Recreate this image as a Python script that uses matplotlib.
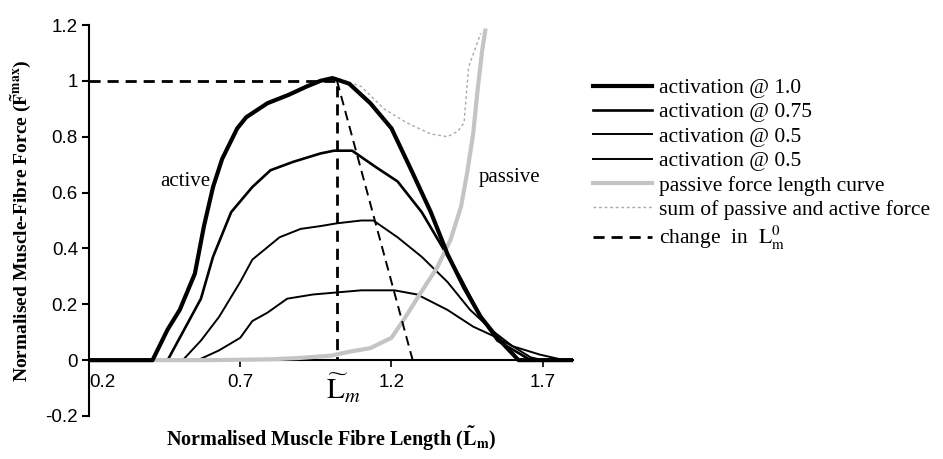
import numpy as np
from matplotlib import pyplot as plt

plt.rcParams['font.family'] = ['Liberation Serif', 'DejaVu Serif']
plt.rcParams['mathtext.fontset'] = 'stix'

# active force-length curves
x_act100 = [0.2, 0.41, 0.46, 0.50, 0.55, 0.58, 0.61, 0.64, 0.69, 0.72, 0.79, 0.86, 0.92, 0.965, 1.005,
            1.06, 1.13, 1.20, 1.27, 1.33, 1.385, 1.44, 1.495, 1.55, 1.62, 1.8]
y_act100 = [0, 0, 0.11, 0.18, 0.31, 0.48, 0.62, 0.72, 0.83, 0.87, 0.92, 0.95, 0.98, 1.0, 1.01,
            0.99, 0.92, 0.83, 0.67, 0.53, 0.38, 0.26, 0.155, 0.08, 0, 0]

x_act075 = [0.2, 0.46, 0.50, 0.57, 0.61, 0.67, 0.74, 0.80, 0.875, 0.965, 1.01, 1.07, 1.15, 1.22,
            1.30, 1.36, 1.43, 1.495, 1.55, 1.66, 1.8]
y_act075 = [0, 0, 0.08, 0.22, 0.37, 0.53, 0.62, 0.68, 0.71, 0.74, 0.75, 0.75, 0.69, 0.64,
            0.53, 0.42, 0.29, 0.155, 0.07, 0, 0]

x_act050 = [0.2, 0.51, 0.57, 0.63, 0.70, 0.74, 0.83, 0.90, 0.965, 1.02, 1.10, 1.14, 1.22, 1.30,
            1.385, 1.46, 1.54, 1.60, 1.66, 1.70, 1.8]
y_act050 = [0, 0, 0.07, 0.155, 0.28, 0.36, 0.44, 0.47, 0.48, 0.49, 0.50, 0.50, 0.44, 0.37,
            0.28, 0.18, 0.10, 0.05, 0.01, 0, 0]

x_act025 = [0.2, 0.56, 0.63, 0.70, 0.74, 0.79, 0.855, 0.94, 1.10, 1.21, 1.285, 1.385, 1.47, 1.54,
            1.60, 1.69, 1.77, 1.8]
y_act025 = [0, 0, 0.035, 0.08, 0.14, 0.17, 0.22, 0.235, 0.25, 0.25, 0.235, 0.18, 0.12, 0.085,
            0.05, 0.02, 0, 0]

# passive curve
x_pas = [0.2, 0.6, 0.8, 0.9, 1.0, 1.06, 1.13, 1.20, 1.24, 1.296, 1.35, 1.395, 1.43, 1.45, 1.47,
         1.485, 1.50, 1.51]
y_pas = [0, 0, 0.003, 0.008, 0.016, 0.03, 0.043, 0.08, 0.144, 0.24, 0.33, 0.43, 0.55, 0.67, 0.81,
         0.97, 1.11, 1.18]

# passive + active
x_sum = [0.2, 0.41, 0.46, 0.50, 0.55, 0.58, 0.61, 0.64, 0.69, 0.72, 0.79, 0.86, 0.92, 0.965, 1.02,
         1.10, 1.175, 1.25, 1.33, 1.385, 1.42, 1.44, 1.455, 1.495]
y_sum = [0, 0, 0.11, 0.18, 0.31, 0.48, 0.62, 0.72, 0.83, 0.87, 0.92, 0.95, 0.98, 1.0, 1.01,
         0.98, 0.90, 0.85, 0.81, 0.80, 0.82, 0.85, 1.05, 1.17]

# change in L0m
x_opt = [0.2, 1.02, 1.02]
y_opt = [1.0, 1.0, 0.0]
x_shift = [1.02, 1.27]
y_shift = [1.0, 0.0]

xticks = [0.2, 0.7, 1.2, 1.7]
yticks = [-0.2, 0, 0.2, 0.4, 0.6, 0.8, 1, 1.2]
ytick_labels = ['-0.2', '0', '0.2', '0.4', '0.6', '0.8', '1', '1.2']

fig = plt.figure(figsize=(9.43, 4.59), dpi=100)
ax = fig.add_axes([0.0944, 0.0937, 0.5132, 0.8518])

ax.plot(x_sum, y_sum, color='#a8a8a8', lw=1.0, ls=(0, (2, 2)), label='sum of passive and active force', zorder=2)
ax.plot(x_act025, y_act025, color='black', lw=1.4, label='activation @ 0.5', zorder=3)
ax.plot(x_act050, y_act050, color='black', lw=1.4, label='activation @ 0.5', zorder=3)
ax.plot(x_act075, y_act075, color='black', lw=1.9, label='activation @ 0.75', zorder=3)
ax.plot(x_act100, y_act100, color='black', lw=3.0, label='activation @ 1.0', zorder=4)
ax.plot(x_pas, y_pas, color='#c4c4c4', lw=3.0, label='passive force length curve', zorder=3)
ax.plot(x_opt, y_opt, color='black', lw=2.0, ls=(0, (4, 2.5)),
        label=r'change  in  $\mathrm{L}_{\mathrm{m}}^{0}$', zorder=5)
ax.plot(x_shift, y_shift, color='black', lw=1.4, ls=(0, (5, 3)), zorder=5)

ax.set_xlim(0.2, 1.8)
ax.set_ylim(-0.2, 1.2)
ax.spines['top'].set_visible(False)
ax.spines['right'].set_visible(False)
ax.spines['bottom'].set_position(('data', 0))
ax.spines['left'].set_linewidth(1.5)
ax.spines['bottom'].set_linewidth(1.5)

ax.set_yticks(yticks)
ax.set_yticklabels(ytick_labels, family='Liberation Sans', fontsize=13.5)
ax.set_xticks(xticks)
ax.set_xticklabels([str(t) for t in xticks], family='Liberation Sans', fontsize=13.5)
ax.tick_params(axis='y', direction='out', length=5, width=1.5, pad=3)
ax.tick_params(axis='x', direction='out', length=5, width=1.2, pad=5)
ax.get_xticklabels()[0].set_horizontalalignment('left')
ax.xaxis.get_major_ticks()[0].tick1line.set_visible(False)

ax.text(1.04, -0.04, r'$\widetilde{\mathrm{L}}_{m}$', fontsize=21, ha='center', va='top')
ax.text(0.52, 0.64, 'active', fontsize=15, ha='center', va='center')
ax.text(1.49, 0.655, 'passive', fontsize=15, ha='left', va='center')

ax.set_ylabel(r'Normalised Muscle-Fibre Force ($\mathbf{\tilde{F}^{max}}$)',
              fontsize=14, fontweight='bold', labelpad=8)
fig.text(0.351, 0.045, r'Normalised Muscle Fibre Length ($\mathbf{\tilde{L}_m}$)',
         fontsize=14.5, fontweight='bold', ha='center', va='center')

handles, labels = ax.get_legend_handles_labels()
order = [4, 3, 2, 1, 5, 0, 6]
fig.legend([handles[i] for i in order], [labels[i] for i in order],
           loc='upper left', bbox_to_anchor=(0.629, 0.83), frameon=False,
           fontsize=15.5, handlelength=2.75, handletextpad=0.3, labelspacing=0.2,
           borderaxespad=0, borderpad=0)

fig.savefig('out.png', dpi=100)
